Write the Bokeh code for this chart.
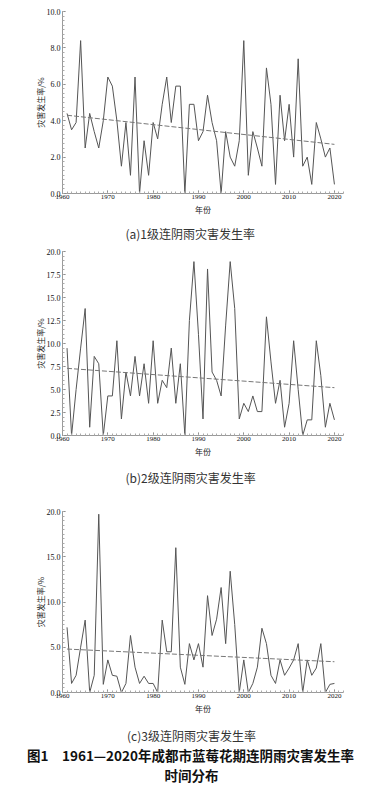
from bokeh.plotting import figure
from bokeh.models import Title, NumeralTickFormatter, FixedTicker, Range1d, Div
from bokeh.layouts import column
from bokeh.embed import file_html
from bokeh.resources import INLINE

years = list(range(1961, 2021))

rate_a = [4.4, 3.5, 3.9, 8.4, 2.5, 4.4, 3.4, 2.5, 4.0, 6.4,
          5.9, 4.0, 1.5, 3.9, 1.0, 6.4, 0.0, 2.9, 1.0, 3.9,
          3.0, 4.9, 6.4, 3.9, 5.9, 5.9, 0.0, 4.9, 4.9, 2.9,
          3.4, 5.4, 3.9, 2.9, 0.0, 3.4, 2.0, 1.5, 2.9, 8.4,
          1.0, 3.4, 2.5, 1.5, 6.9, 4.9, 0.5, 5.4, 2.9, 4.9,
          2.0, 7.4, 1.5, 2.0, 0.5, 3.9, 3.0, 2.0, 2.5, 0.5]

rate_b = [9.5, 0.0, 5.0, 9.5, 13.8, 0.9, 8.6, 7.8, 0.0, 4.3,
          4.3, 10.3, 1.8, 6.9, 4.3, 8.6, 4.3, 7.8, 3.5, 10.3,
          3.5, 6.0, 5.2, 9.5, 3.5, 7.8, 0.0, 12.5, 18.9, 11.0,
          1.8, 18.1, 6.9, 6.0, 4.3, 12.0, 18.9, 13.8, 1.8, 3.5,
          2.6, 4.3, 2.6, 2.6, 12.9, 8.0, 3.5, 6.0, 0.9, 3.5,
          10.3, 5.0, 0.0, 1.7, 1.7, 10.3, 6.5, 0.9, 3.5, 1.7]

rate_c = [7.2, 1.0, 1.9, 5.0, 8.0, 0.0, 1.9, 19.7, 0.9, 3.6,
          1.9, 1.8, 0.0, 1.0, 6.3, 2.8, 1.0, 1.8, 1.0, 1.0,
          0.0, 8.0, 4.5, 4.5, 16.0, 2.8, 0.9, 5.4, 3.6, 5.4,
          2.8, 10.7, 6.3, 8.1, 11.6, 5.4, 13.4, 7.5, 0.0, 3.6,
          0.0, 1.0, 2.8, 7.1, 5.4, 1.9, 1.0, 3.6, 1.9, 2.7,
          3.6, 5.4, 0.0, 3.6, 1.9, 2.7, 5.4, 0.0, 0.9, 1.0]

trend_years = [1961, 2020]
trend_a = [4.3, 2.7]
trend_b = [7.3, 5.2]
trend_c = [4.8, 3.4]

x_ticks = [1960, 1970, 1980, 1990, 2000, 2010, 2020]
y_ticks_a = [0, 2, 4, 6, 8, 10]
y_ticks_b = [0, 2.5, 5, 7.5, 10, 12.5, 15, 17.5, 20]
y_ticks_c = [0, 5, 10, 15, 20]

captions = ["(a)1级连阴雨灾害发生率", "(b)2级连阴雨灾害发生率", "(c)3级连阴雨灾害发生率"]
fig_title_1 = "图1　1961—2020年成都市蓝莓花期连阴雨灾害发生率"
fig_title_2 = "时间分布"
x_label = "年份"
y_label = "灾害发生率/%"

CJK = "Noto Sans CJK SC"
SERIF = "Liberation Serif"


def panel(vals, trend, yticks, ymax, height, top, bottom, caption=None, cap_standoff=8):
    p = figure(width=375, height=height, output_backend="svg", toolbar_location=None,
               x_range=Range1d(1960, 2022), y_range=Range1d(0, ymax),
               min_border_left=62, min_border_right=32,
               min_border_top=top, min_border_bottom=bottom)
    p.outline_line_color = None
    p.grid.visible = False
    p.background_fill_color = "white"
    p.border_fill_color = "white"
    p.line(years, vals, line_color="#555555", line_width=1)
    p.line(trend_years, trend, line_color="#777777", line_width=1, line_dash="5 2")

    p.xaxis.ticker = FixedTicker(ticks=x_ticks, minor_ticks=list(range(1960, 2023)))
    p.yaxis.ticker = FixedTicker(ticks=yticks,
                                 minor_ticks=[i * ymax / 40 for i in range(41)])
    p.yaxis.formatter = NumeralTickFormatter(format="0.0")
    for ax in (p.xaxis, p.yaxis):
        ax.axis_line_color = "#9a9a9a"
        ax.major_tick_line_color = "#777777"
        ax.minor_tick_line_color = "#aaaaaa"
        ax.major_tick_in = 3
        ax.major_tick_out = 0
        ax.minor_tick_in = 2
        ax.minor_tick_out = 0
        ax.major_label_text_font = SERIF
        ax.major_label_text_color = "#111111"
        ax.axis_label_text_font = CJK
        ax.axis_label_text_font_size = "8px"
        ax.axis_label_text_font_style = "normal"
        ax.axis_label_text_color = "#222222"
    p.xaxis.major_label_text_font_size = "7px"
    p.yaxis.major_label_text_font_size = "8px"
    p.xaxis.major_label_standoff = 1
    p.yaxis.major_label_standoff = 2
    p.xaxis.axis_label = x_label
    p.yaxis.axis_label = y_label
    p.xaxis.axis_label_standoff = 2
    p.yaxis.axis_label_standoff = -2

    if caption:
        p.add_layout(Title(text=caption, align="left", offset=63, text_font=CJK,
                           text_font_size="12px", text_font_style="normal",
                           text_color="#333333", standoff=cap_standoff), "below")
    return p


pa = panel(rate_a, trend_a, y_ticks_a, 10, 247, 11, 54, captions[0], 10)
pb = panel(rate_b, trend_b, y_ticks_b, 20, 246, 4, 58, captions[1], 14)
pc = panel(rate_c, trend_c, y_ticks_c, 20, 224, 18, 25)

foot_html = (
    f'<div style="position:relative;left:4px;font-size:12px;font-weight:normal;'
    f'color:#333333;line-height:18px;">{captions[2]}</div>'
    f'<div style="position:relative;left:3px;font-size:13.5px;font-weight:bold;'
    f'color:#111111;line-height:20px;">{fig_title_1}</div>'
    f'<div style="position:relative;left:4px;font-size:13.5px;font-weight:bold;'
    f'color:#111111;line-height:20px;">{fig_title_2}</div>'
)
foot = Div(text=foot_html, width=375, height=82, margin=0,
           styles={"font-family": CJK, "text-align": "center", "padding-top": "10px",
                   "box-sizing": "border-box", "background-color": "white"})

layout = column(pa, pb, pc, foot, spacing=0)
open("out.html", "w").write(file_html(layout, INLINE))
